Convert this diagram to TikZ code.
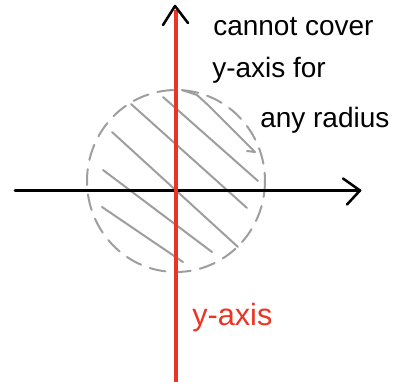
\documentclass[tikz,border=0pt]{standalone}
\usepackage{fontspec}
\setmainfont{Liberation Sans}
\definecolor{hgray}{RGB}{158,158,158}
\definecolor{axred}{RGB}{234,52,36}
\begin{document}
\begin{tikzpicture}[x=0.75pt,y=-0.75pt,
  hatch/.style={draw=hgray,line width=1.5pt,line cap=round,line join=round},
  rim/.style={draw=hgray,line width=1.5pt,line cap=round,dash pattern=on 12pt off 7pt},
  axisline/.style={draw=black,line width=1.9pt,line cap=round,line join=round},
  redline/.style={draw=axred,line width=3pt},
  note/.style={anchor=base west,inner sep=0pt,font=\fontsize{21}{24}\selectfont},
  rednote/.style={anchor=base west,inner sep=0pt,text=axred,font=\fontsize{23}{26}\selectfont}]
\useasboundingbox (0,0) rectangle (407,382);
% circle (dashed)
\coordinate (c) at (176,181);
\draw[rim] (c) ellipse [x radius=89, y radius=91];
% hatch lines
\coordinate (h1a) at (182,90);   \coordinate (h1b) at (255,152);
\coordinate (h2a) at (163,97);   \coordinate (h2b) at (258,181);
\coordinate (h3a) at (131,104);  \coordinate (h3b) at (247,208);
\coordinate (h4a) at (112,132);  \coordinate (h4b) at (238,247);
\coordinate (h5a) at (103,170);  \coordinate (h5b) at (212,252);
\coordinate (h6a) at (102,207);  \coordinate (h6b) at (183,262);
\draw[hatch] (h1a) -- (197,95) -- (208,105) -- (h1b) -- ++(-8,-1);
\draw[hatch] (h2a) -- (h2b);
\draw[hatch] (h3a) -- (h3b);
\draw[hatch] (h4a) -- (h4b);
\draw[hatch] (h5a) -- (h5b);
\draw[hatch] (h6a) -- (h6b);
% x axis
\coordinate (xs) at (15,190.5);
\coordinate (xtip) at (360,190.5);
\draw[axisline] (xs) -- (xtip);
\draw[axisline] (xtip) ++(-17,-12) -- (xtip) -- ++(-13,14);
% y axis (red) with black tip
\coordinate (ytip) at (175,6);
\coordinate (ys) at (176,10);
\coordinate (ye) at (176,382);
\draw[redline] (ys) -- (ye);
\draw[axisline] (ytip) ++(-12,19) -- (ytip) -- ++(13,17);
% texts
\node[note] (t1) at (213,35) {cannot cover};
\node[note] (t2) at (212,77) {y-axis for};
\node[note] (t3) at (260,127) {any radius};
\node[rednote] (ty) at (192,325) {y-axis};
\end{tikzpicture}
\end{document}
